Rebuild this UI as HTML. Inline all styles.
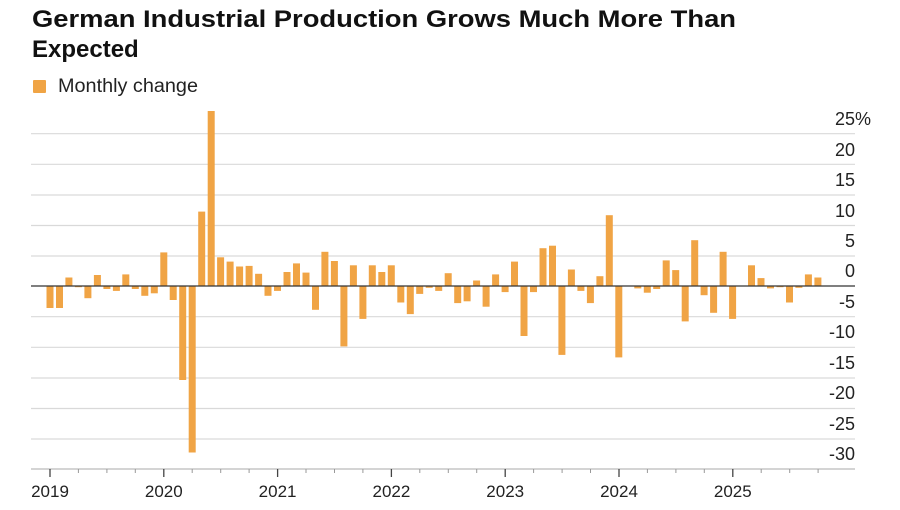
<!DOCTYPE html>
<html><head><meta charset="utf-8"><style>
html,body{margin:0;padding:0;background:#fff;}
svg{display:block;font-family:"Liberation Sans",Arial,sans-serif;}
</style></head><body>
<svg width="900" height="510" viewBox="0 0 900 510" xmlns="http://www.w3.org/2000/svg">
<text x="32" y="27" font-size="24" font-weight="bold" fill="#111" textLength="704" lengthAdjust="spacingAndGlyphs">German Industrial Production Grows Much More Than</text>
<text x="32" y="57" font-size="24" font-weight="bold" fill="#111">Expected</text>
<rect x="33" y="80" width="13" height="13" rx="1" fill="#f0a445"/>
<text x="58" y="92" font-size="19" fill="#222" textLength="140" lengthAdjust="spacingAndGlyphs">Monthly change</text>
<g stroke="#d9d9d9" stroke-width="1.2">
<line x1="31" x2="855" y1="133.7" y2="133.7"/>
<line x1="31" x2="855" y1="164.3" y2="164.3"/>
<line x1="31" x2="855" y1="195" y2="195"/>
<line x1="31" x2="855" y1="225.5" y2="225.5"/>
<line x1="31" x2="855" y1="256" y2="256"/>
<line x1="31" x2="855" y1="316.7" y2="316.7"/>
<line x1="31" x2="855" y1="347.3" y2="347.3"/>
<line x1="31" x2="855" y1="378" y2="378"/>
<line x1="31" x2="855" y1="408.5" y2="408.5"/>
<line x1="31" x2="855" y1="439" y2="439"/>
</g>
<g font-size="18" fill="#222" text-anchor="end">
<text x="855" y="125">25</text>
<text x="855" y="156">20</text>
<text x="855" y="186">15</text>
<text x="855" y="217">10</text>
<text x="855" y="247">5</text>
<text x="855" y="277">0</text>
<text x="855" y="308">-5</text>
<text x="855" y="338">-10</text>
<text x="855" y="369">-15</text>
<text x="855" y="399">-20</text>
<text x="855" y="430">-25</text>
<text x="855" y="460">-30</text>
</g>
<text x="855" y="125" font-size="18" fill="#222">%</text>
<g fill="#f0a445">
<rect x="46.5" y="286" width="7" height="22"/>
<rect x="56.0" y="286" width="7" height="22"/>
<rect x="65.4" y="277.5" width="7" height="8.5"/>
<rect x="74.9" y="286" width="7" height="1.2"/>
<rect x="84.4" y="286" width="7" height="12.2"/>
<rect x="93.9" y="275" width="7" height="11"/>
<rect x="103.4" y="286" width="7" height="3"/>
<rect x="112.9" y="286" width="7" height="4.9"/>
<rect x="122.3" y="274.4" width="7" height="11.6"/>
<rect x="131.8" y="286" width="7" height="3"/>
<rect x="141.3" y="286" width="7" height="9.8"/>
<rect x="150.8" y="286" width="7" height="7.3"/>
<rect x="160.3" y="252.4" width="7" height="33.6"/>
<rect x="169.7" y="286" width="7" height="14"/>
<rect x="179.2" y="286" width="7" height="94"/>
<rect x="188.7" y="286" width="7" height="166.5"/>
<rect x="198.2" y="211.6" width="7" height="74.4"/>
<rect x="207.7" y="111" width="7" height="175"/>
<rect x="217.1" y="257.3" width="7" height="28.7"/>
<rect x="226.6" y="261.6" width="7" height="24.4"/>
<rect x="236.1" y="266.5" width="7" height="19.5"/>
<rect x="245.6" y="265.9" width="7" height="20.1"/>
<rect x="255.1" y="273.8" width="7" height="12.2"/>
<rect x="264.5" y="286" width="7" height="9.8"/>
<rect x="274.0" y="286" width="7" height="4.9"/>
<rect x="283.5" y="272" width="7" height="14"/>
<rect x="293.0" y="263.4" width="7" height="22.6"/>
<rect x="302.5" y="272.6" width="7" height="13.4"/>
<rect x="312.0" y="286" width="7" height="23.8"/>
<rect x="321.4" y="251.8" width="7" height="34.2"/>
<rect x="330.9" y="261" width="7" height="25"/>
<rect x="340.4" y="286" width="7" height="60.4"/>
<rect x="349.9" y="265.3" width="7" height="20.7"/>
<rect x="359.4" y="286" width="7" height="32.9"/>
<rect x="368.8" y="265.3" width="7" height="20.7"/>
<rect x="378.3" y="272" width="7" height="14"/>
<rect x="387.8" y="265.3" width="7" height="20.7"/>
<rect x="397.3" y="286" width="7" height="16.5"/>
<rect x="406.8" y="286" width="7" height="28.1"/>
<rect x="416.2" y="286" width="7" height="7.9"/>
<rect x="425.7" y="286" width="7" height="1.8"/>
<rect x="435.2" y="286" width="7" height="4.9"/>
<rect x="444.7" y="273.2" width="7" height="12.8"/>
<rect x="454.2" y="286" width="7" height="17.1"/>
<rect x="463.6" y="286" width="7" height="15.3"/>
<rect x="473.1" y="280.5" width="7" height="5.5"/>
<rect x="482.6" y="286" width="7" height="20.7"/>
<rect x="492.1" y="274.4" width="7" height="11.6"/>
<rect x="501.6" y="286" width="7" height="6.1"/>
<rect x="511.0" y="261.6" width="7" height="24.4"/>
<rect x="520.5" y="286" width="7" height="50"/>
<rect x="530.0" y="286" width="7" height="6.1"/>
<rect x="539.5" y="248.2" width="7" height="37.8"/>
<rect x="549.0" y="245.7" width="7" height="40.3"/>
<rect x="558.4" y="286" width="7" height="68.9"/>
<rect x="567.9" y="269.5" width="7" height="16.5"/>
<rect x="577.4" y="286" width="7" height="4.9"/>
<rect x="586.9" y="286" width="7" height="17.1"/>
<rect x="596.4" y="276.2" width="7" height="9.8"/>
<rect x="605.8" y="215.2" width="7" height="70.8"/>
<rect x="615.3" y="286" width="7" height="71.4"/>
<rect x="634.3" y="286" width="7" height="2.4"/>
<rect x="643.8" y="286" width="7" height="6.7"/>
<rect x="653.2" y="286" width="7" height="3"/>
<rect x="662.7" y="260.4" width="7" height="25.6"/>
<rect x="672.2" y="270.1" width="7" height="15.9"/>
<rect x="681.7" y="286" width="7" height="35.4"/>
<rect x="691.2" y="240.2" width="7" height="45.8"/>
<rect x="700.6" y="286" width="7" height="9.2"/>
<rect x="710.1" y="286" width="7" height="26.8"/>
<rect x="719.6" y="251.8" width="7" height="34.2"/>
<rect x="729.1" y="286" width="7" height="32.9"/>
<rect x="748.0" y="265.3" width="7" height="20.7"/>
<rect x="757.5" y="278.1" width="7" height="7.9"/>
<rect x="767.0" y="286" width="7" height="2.4"/>
<rect x="776.5" y="286" width="7" height="1.2"/>
<rect x="786.0" y="286" width="7" height="16.5"/>
<rect x="795.4" y="286" width="7" height="1.8"/>
<rect x="804.9" y="274.4" width="7" height="11.6"/>
<rect x="814.4" y="277.5" width="7" height="8.5"/>
</g>
<line x1="31" x2="855" y1="286" y2="286" stroke="#333" stroke-width="1.3"/>
<line x1="31" x2="855" y1="469" y2="469" stroke="#bbb" stroke-width="1.2"/>
<g stroke="#444" stroke-width="1.3">
<line x1="50" x2="50" y1="469" y2="477"/>
<line x1="163.8" x2="163.8" y1="469" y2="477"/>
<line x1="277.6" x2="277.6" y1="469" y2="477"/>
<line x1="391.4" x2="391.4" y1="469" y2="477"/>
<line x1="505.2" x2="505.2" y1="469" y2="477"/>
<line x1="619" x2="619" y1="469" y2="477"/>
<line x1="732.8" x2="732.8" y1="469" y2="477"/>
</g>
<g stroke="#999" stroke-width="1">
<line x1="78.4" x2="78.4" y1="469" y2="473"/><line x1="106.9" x2="106.9" y1="469" y2="473"/><line x1="135.3" x2="135.3" y1="469" y2="473"/>
<line x1="192.2" x2="192.2" y1="469" y2="473"/><line x1="220.7" x2="220.7" y1="469" y2="473"/><line x1="249.1" x2="249.1" y1="469" y2="473"/>
<line x1="306" x2="306" y1="469" y2="473"/><line x1="334.5" x2="334.5" y1="469" y2="473"/><line x1="362.9" x2="362.9" y1="469" y2="473"/>
<line x1="419.8" x2="419.8" y1="469" y2="473"/><line x1="448.3" x2="448.3" y1="469" y2="473"/><line x1="476.7" x2="476.7" y1="469" y2="473"/>
<line x1="533.6" x2="533.6" y1="469" y2="473"/><line x1="562.1" x2="562.1" y1="469" y2="473"/><line x1="590.5" x2="590.5" y1="469" y2="473"/>
<line x1="647.4" x2="647.4" y1="469" y2="473"/><line x1="675.9" x2="675.9" y1="469" y2="473"/><line x1="704.3" x2="704.3" y1="469" y2="473"/>
<line x1="761.2" x2="761.2" y1="469" y2="473"/><line x1="789.7" x2="789.7" y1="469" y2="473"/><line x1="818.1" x2="818.1" y1="469" y2="473"/>
</g>
<g font-size="17" fill="#222" text-anchor="middle">
<text x="50" y="497">2019</text>
<text x="163.8" y="497">2020</text>
<text x="277.6" y="497">2021</text>
<text x="391.4" y="497">2022</text>
<text x="505.2" y="497">2023</text>
<text x="619" y="497">2024</text>
<text x="732.8" y="497">2025</text>
</g>
</svg>
</body></html>
